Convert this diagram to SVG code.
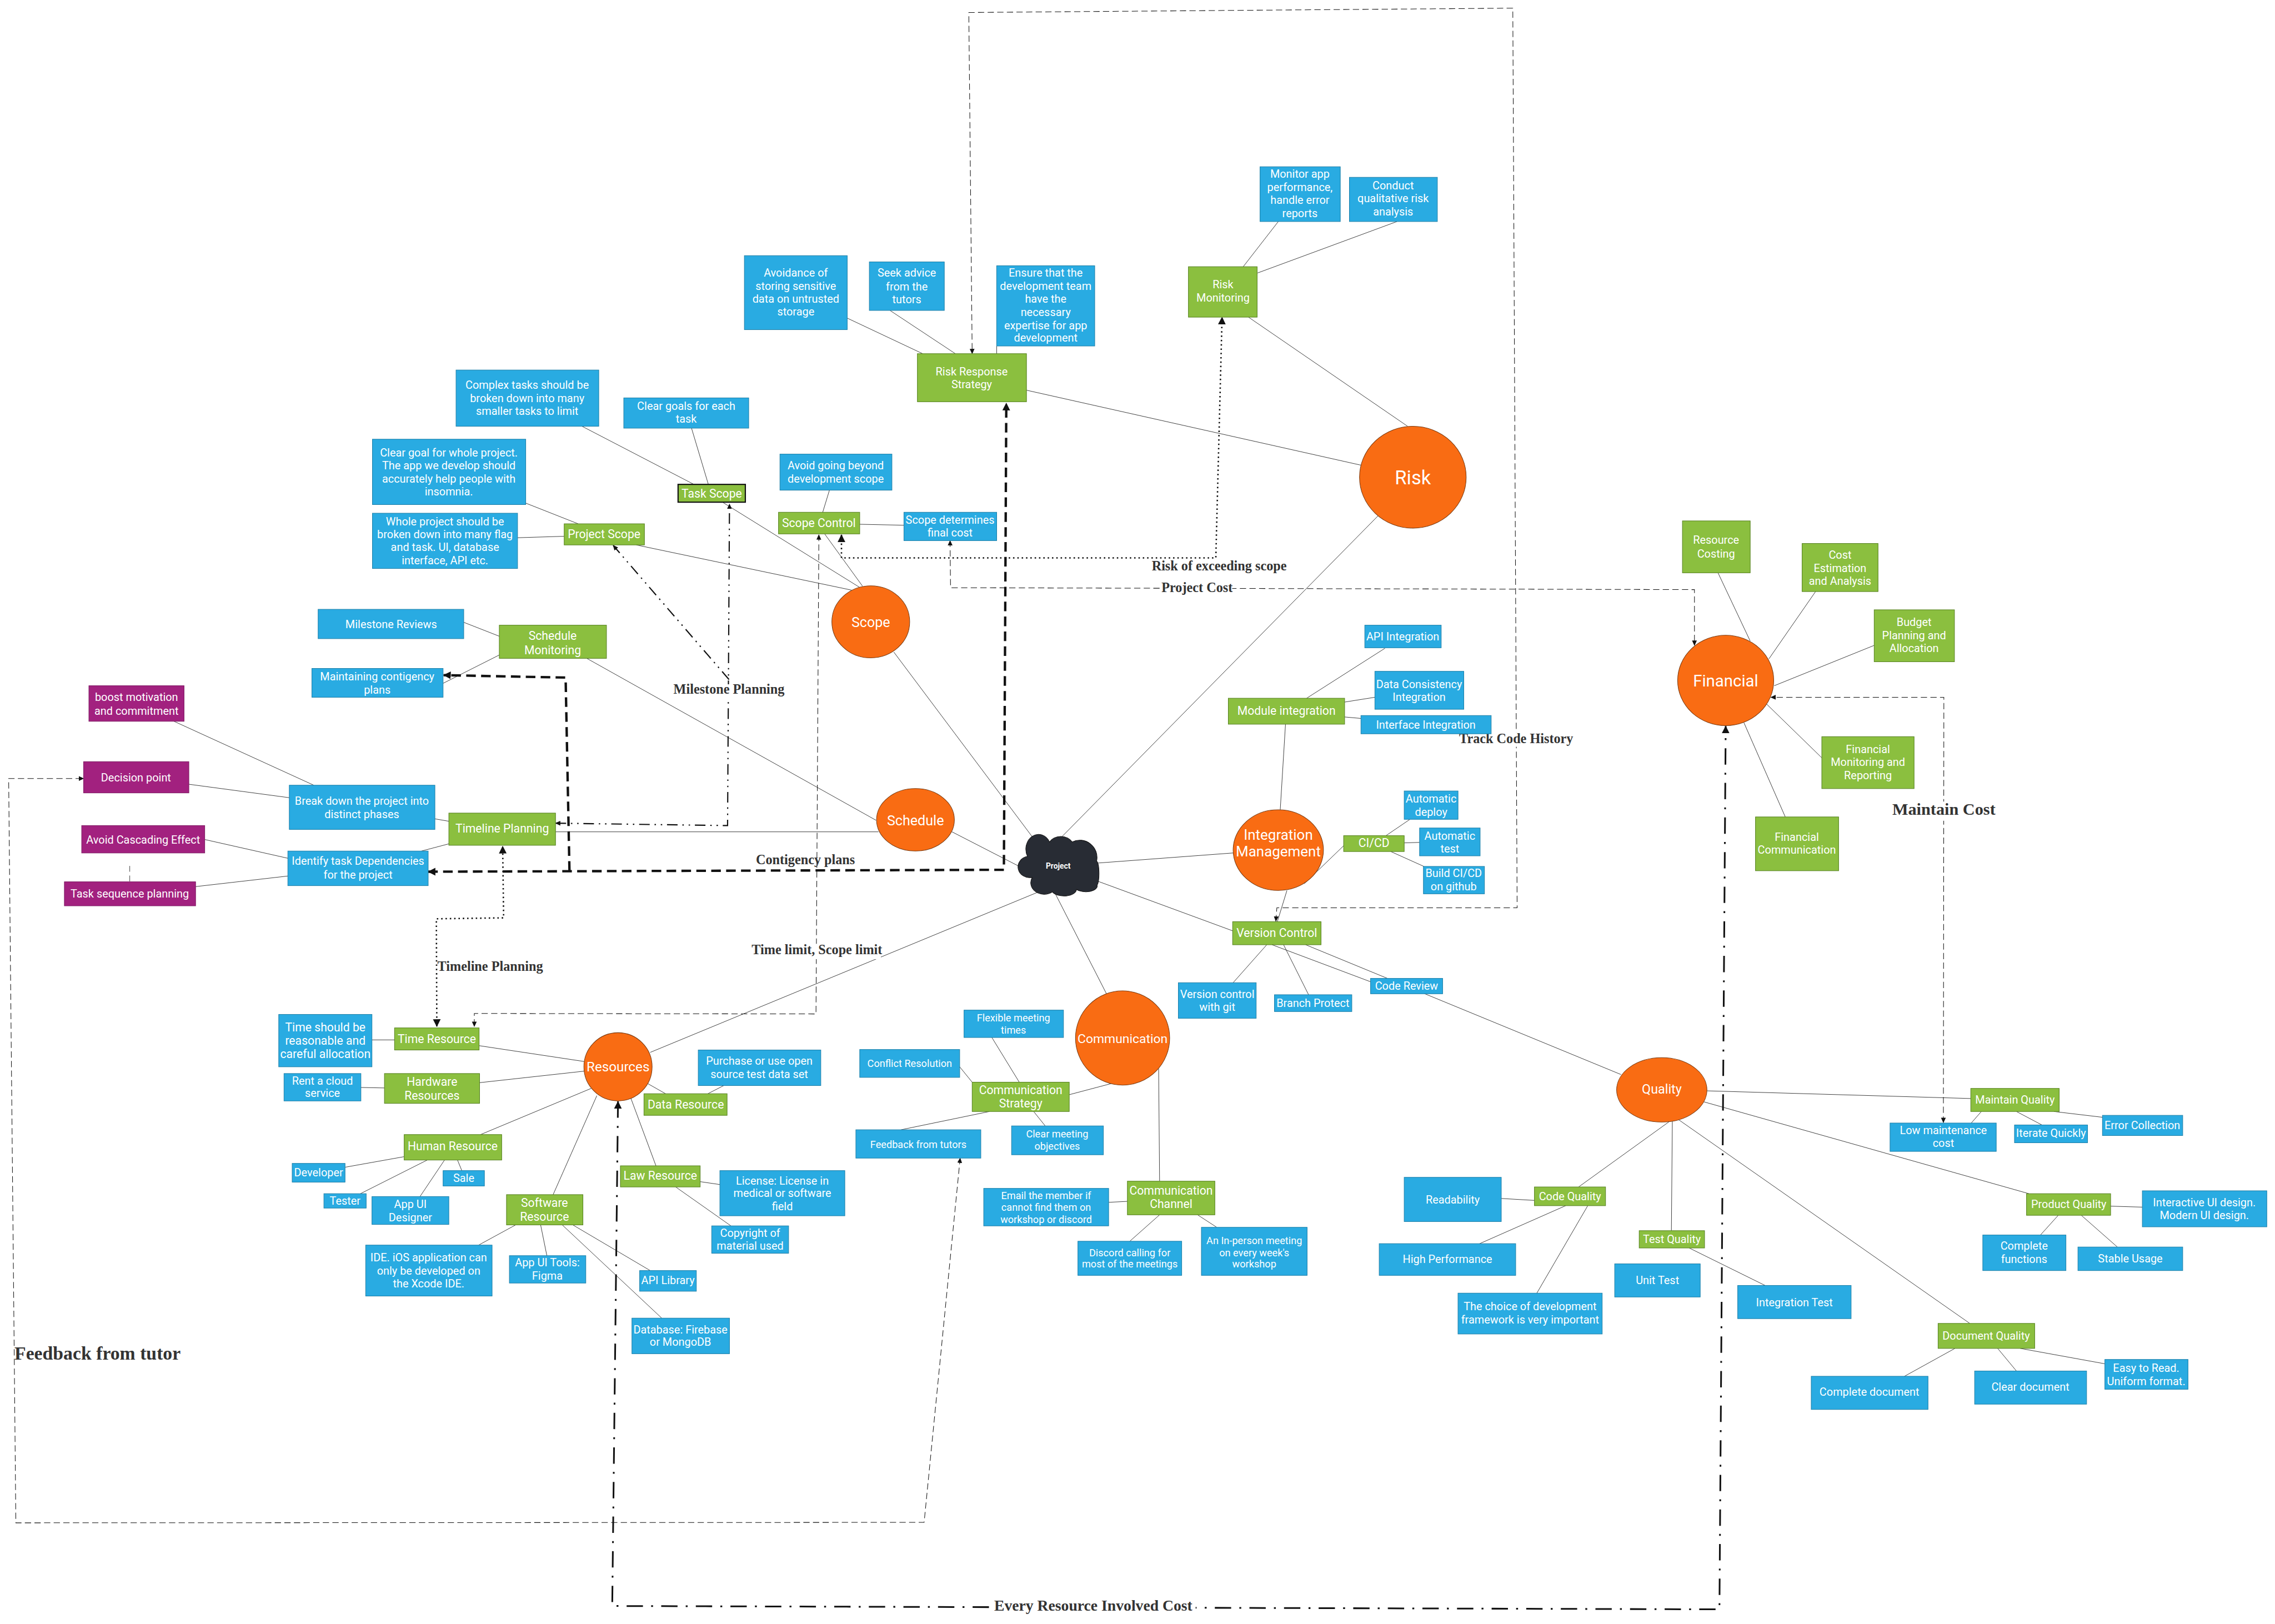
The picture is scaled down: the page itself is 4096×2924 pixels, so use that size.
<svg xmlns="http://www.w3.org/2000/svg" width="4096" height="2924" viewBox="0 0 4096 2924">
<style>
text{font-family:Roboto,"Liberation Sans",sans-serif;font-size:23px;fill:#fff;text-anchor:middle}
.bl{fill:#29abe2;stroke:#1c7fa8;stroke-width:1.2}
.gr{fill:#8bbf3f;stroke:#55801f;stroke-width:1.2}
.pu{fill:#a2217f;stroke:#7d1762;stroke-width:1.2}
.or{fill:#f96c13;stroke:#7a3a10;stroke-width:1.2}
.k{font-size:24.5px}
.c{font-size:21px}
.lb{font-family:"Liberation Serif",serif;font-weight:bold;fill:#333;font-size:28px}
.w{fill:#fff;stroke:none}
#lines line{stroke:#222;stroke-width:1}
#flows path{fill:none;stroke:#111}
.d1{stroke-width:1.2;stroke-dasharray:13 7}
.d2{stroke-width:5;stroke-dasharray:20 11}
.d3{stroke-width:3;stroke-dasharray:3 6}
.d4{stroke-width:2.5;stroke-dasharray:22 10 3 10 3 10}
.d5{stroke-width:3.5;stroke-dasharray:34 17 4 17}
</style>
<defs>
<marker id="a1" markerUnits="userSpaceOnUse" markerWidth="12" markerHeight="12" refX="10" refY="6" orient="auto-start-reverse"><path d="M0 1 L11 6 L0 11 Z" fill="#111"/></marker>
<marker id="a2" markerUnits="userSpaceOnUse" markerWidth="18" markerHeight="18" refX="15" refY="9" orient="auto-start-reverse"><path d="M0 1 L16 9 L0 17 Z" fill="#111"/></marker>
</defs>
<g transform="scale(.86522)">
<g id="lines">
<line x1="1211" y1="887" x2="1444" y2="1008"/><line x1="1439" y1="891" x2="1474" y2="1008"/><line x1="1094" y1="1047" x2="1203" y2="1090"/><line x1="1077" y1="1119" x2="1174" y2="1116"/><line x1="1324" y1="1134" x2="1772" y2="1228"/><line x1="1505" y1="1046" x2="1790" y2="1223"/><line x1="1716" y1="1111" x2="1795" y2="1220"/><line x1="1726" y1="1020" x2="1712" y2="1066"/><line x1="1789" y1="1091" x2="1881" y2="1093"/><line x1="1860" y1="1357" x2="2156" y2="1752"/><line x1="1981" y1="1731" x2="2123" y2="1804"/><line x1="1221" y1="1370" x2="1823" y2="1707"/><line x1="1156" y1="1731" x2="1828" y2="1731"/><line x1="965" y1="1295" x2="1039" y2="1324"/><line x1="1039" y1="1363" x2="922" y2="1422"/><line x1="362" y1="1501" x2="653" y2="1634"/><line x1="393" y1="1632" x2="602" y2="1660"/><line x1="905" y1="1704" x2="934" y2="1709"/><line x1="934" y1="1756" x2="877" y2="1771"/><line x1="426" y1="1747" x2="599" y2="1786"/><line x1="407" y1="1845" x2="599" y2="1823"/>
<line x1="1763" y1="662" x2="1920" y2="736"/><line x1="1852" y1="646" x2="1988" y2="736"/><line x1="2074" y1="720" x2="2074" y2="736"/><line x1="2136" y1="812" x2="2832" y2="968"/><line x1="2598" y1="660" x2="2929" y2="887"/><line x1="2660" y1="461" x2="2587" y2="555"/><line x1="2907" y1="461" x2="2617" y2="568"/><line x1="2868" y1="1073" x2="2202" y2="1749"/>
<line x1="2284" y1="1796" x2="2566" y2="1775"/><line x1="2675" y1="1507" x2="2664" y2="1686"/><line x1="2882" y1="1349" x2="2719" y2="1453"/><line x1="2861" y1="1451" x2="2798" y2="1461"/><line x1="2832" y1="1495" x2="2798" y2="1492"/><line x1="2714" y1="1839" x2="2796" y2="1760"/><line x1="2884" y1="1739" x2="2934" y2="1705"/><line x1="2922" y1="1754" x2="2954" y2="1753"/><line x1="2894" y1="1772" x2="2963" y2="1803"/><line x1="2678" y1="1853" x2="2658" y2="1918"/><line x1="2285" y1="1834" x2="2565" y2="1937"/><line x1="2636" y1="1966" x2="2566" y2="2045"/><line x1="2671" y1="1966" x2="2723" y2="2070"/><line x1="2647" y1="1966" x2="2852" y2="2043"/><line x1="2717" y1="1966" x2="3373" y2="2236"/>
<line x1="2193" y1="1854" x2="2303" y2="2069"/><line x1="2166" y1="1854" x2="1353" y2="2190"/><line x1="997" y1="2176" x2="1216" y2="2209"/><line x1="998" y1="2253" x2="1216" y2="2229"/><line x1="774" y1="2164" x2="821" y2="2164"/><line x1="751" y1="2263" x2="800" y2="2264"/><line x1="1000" y1="2361" x2="1230" y2="2265"/><line x1="1151" y1="2486" x2="1242" y2="2280"/><line x1="1365" y1="2426" x2="1313" y2="2286"/><line x1="1385" y1="2276" x2="1348" y2="2255"/><line x1="1506" y1="2259" x2="1473" y2="2276"/><line x1="1457" y1="2459" x2="1498" y2="2465"/><line x1="1406" y1="2470" x2="1521" y2="2551"/><line x1="841" y1="2407" x2="718" y2="2429"/><line x1="889" y1="2414" x2="750" y2="2484"/><line x1="925" y1="2414" x2="874" y2="2490"/><line x1="952" y1="2414" x2="961" y2="2436"/><line x1="1073" y1="2549" x2="996" y2="2591"/><line x1="1125" y1="2549" x2="1138" y2="2613"/><line x1="1192" y1="2549" x2="1353" y2="2644"/><line x1="1170" y1="2549" x2="1377" y2="2743"/>
<line x1="2312" y1="2255" x2="2225" y2="2278"/><line x1="2064" y1="2159" x2="2121" y2="2252"/><line x1="1997" y1="2220" x2="2023" y2="2252"/><line x1="2059" y1="2313" x2="1875" y2="2351"/><line x1="2151" y1="2313" x2="2175" y2="2343"/><line x1="2411" y1="2224" x2="2413" y2="2458"/><line x1="2346" y1="2500" x2="2307" y2="2502"/><line x1="2413" y1="2528" x2="2351" y2="2583"/><line x1="2492" y1="2528" x2="2532" y2="2554"/>
<line x1="3552" y1="2270" x2="4101" y2="2286"/><line x1="4123" y1="2313" x2="4102" y2="2337"/><line x1="4196" y1="2313" x2="4249" y2="2341"/><line x1="4274" y1="2313" x2="4375" y2="2325"/><line x1="3546" y1="2293" x2="4222" y2="2484"/><line x1="4392" y1="2510" x2="4458" y2="2512"/><line x1="4283" y1="2529" x2="4246" y2="2570"/><line x1="4331" y1="2529" x2="4406" y2="2595"/><line x1="3493" y1="2330" x2="4099" y2="2754"/><line x1="4068" y1="2806" x2="3963" y2="2864"/><line x1="4157" y1="2806" x2="4196" y2="2853"/><line x1="4204" y1="2806" x2="4380" y2="2838"/><line x1="3475" y1="2333" x2="3285" y2="2470"/><line x1="3193" y1="2498" x2="3124" y2="2494"/><line x1="3258" y1="2509" x2="3079" y2="2588"/><line x1="3304" y1="2509" x2="3198" y2="2691"/><line x1="3480" y1="2333" x2="3478" y2="2561"/><line x1="3515" y1="2597" x2="3673" y2="2675"/>
<line x1="3575" y1="1192" x2="3642" y2="1334"/><line x1="3778" y1="1231" x2="3681" y2="1371"/><line x1="3900" y1="1343" x2="3692" y2="1427"/><line x1="3791" y1="1577" x2="3676" y2="1465"/><line x1="3715" y1="1700" x2="3629" y2="1504"/>
</g>
<g id="flows">
<path class="d1" marker-start="url(#a1)" marker-end="url(#a1)" d="M2655 1917 L2657 1889 L3157 1889 L3148 17 L2016 26 L2023 736"/>
<path class="d1" marker-start="url(#a1)" marker-end="url(#a1)" d="M1977 1125 L1978 1223 L3526 1227 L3526 1343"/>
<path class="d3" marker-start="url(#a2)" marker-end="url(#a2)" d="M1751 1113 L1751 1161 L2530 1161 L2543 660"/>
<path class="d1" marker-start="url(#a1)" marker-end="url(#a1)" d="M1704 1113 L1698 2110 L987 2109 L987 2136"/>
<path class="d2" marker-start="url(#a2)" marker-end="url(#a2)" d="M891 1814 L2089 1810 L2094 839"/>
<path class="d2" marker-end="url(#a2)" d="M1185 1812 L1177 1410 L923 1405"/>
<path class="d4" marker-start="url(#a1)" marker-end="url(#a1)" d="M1156 1713 L1514 1718 L1518 1049"/>
<path class="d4" marker-end="url(#a1)" d="M1517 1414 L1276 1135"/>
<path class="d3" marker-start="url(#a2)" marker-end="url(#a2)" d="M909 2136 L908 1912 L1048 1910 L1046 1761"/>
<path class="d1" marker-start="url(#a1)" marker-end="url(#a1)" d="M1998 2410 L1923 3168 L33 3169 L18 1620 L174 1620"/>
<path class="d5" marker-start="url(#a2)" marker-end="url(#a2)" d="M1286 2292 L1274 3342 L3578 3349 L3591 1511"/>
<path class="d1" marker-start="url(#a1)" marker-end="url(#a1)" d="M4044 2336 L4045 1451 L3685 1451"/>
</g>
<g id="labels">
<rect class="w" x="2398" y="1164" width="278" height="30"/><text class="lb" x="2537" y="1187">Risk of exceeding scope</text>
<rect class="w" x="2418" y="1208" width="146" height="32"/><text class="lb" x="2491" y="1232">Project Cost</text>
<rect class="w" x="1403" y="1424" width="227" height="30"/><text class="lb" x="1517" y="1444">Milestone Planning</text>
<rect class="w" x="3038" y="1524" width="234" height="30"/><text class="lb" x="3155" y="1546">Track Code History</text>
<rect class="w" x="3938" y="1668" width="214" height="40"/><text class="lb" style="font-size:35px" x="4045" y="1696">Maintain Cost</text>
<text class="lb" x="1676" y="1798">Contigency plans</text>
<rect class="w" x="1566" y="1964" width="267" height="32"/><text class="lb" x="1700" y="1986">Time limit, Scope limit</text>
<rect class="w" x="913" y="1998" width="215" height="30"/><text class="lb" x="1020" y="2020">Timeline Planning</text>
<text class="lb" style="font-size:39px" x="203" y="2829">Feedback from tutor</text>
<rect class="w" x="2060" y="3325" width="428" height="36"/><text class="lb" style="font-size:32px" x="2275" y="3352">Every Resource Involved Cost</text>
</g>
<g id="n-project"><path fill="#282c34" stroke="#111" stroke-width="1.2" d="M2148 1826 A23 21 0 0 1 2138 1782 A24 28 0 0 1 2184 1752 A26 20 0 0 1 2231 1752 A36 36 0 0 1 2282 1792 A6 26 0 0 1 2283 1842 A24 12 0 0 1 2240 1851 A26 14 0 0 1 2190 1856 A28 24 0 0 1 2148 1826 Z"/><text style="font-size:16px;font-weight:bold" x="2202" y="1808">Project</text></g>
<g id="n-risk"><ellipse class="or" cx="2940" cy="993" rx="111" ry="106"/><text style="font-size:40px" x="2940" y="1008">Risk</text></g>
<g id="n-financial"><ellipse class="or" cx="3591" cy="1416" rx="100" ry="94"/><text style="font-size:34px" x="3591" y="1429">Financial</text></g>
<g id="n-scope"><ellipse class="or" cx="1812" cy="1294" rx="81" ry="75"/><text style="font-size:29px" x="1812" y="1305">Scope</text></g>
<g id="n-schedule"><ellipse class="or" cx="1905" cy="1706" rx="81" ry="65"/><text style="font-size:29px" x="1905" y="1717">Schedule</text></g>
<g id="n-integration"><ellipse class="or" cx="2660" cy="1769" rx="94" ry="84"/><text style="font-size:30px" x="2660" y="1747">Integration</text><text style="font-size:30px" x="2660" y="1782">Management</text></g>
<g id="n-communication"><ellipse class="or" cx="2336" cy="2160" rx="98" ry="98"/><text style="font-size:26.5px" x="2336" y="2170">Communication</text></g>
<g id="n-resources"><ellipse class="or" cx="1286" cy="2220" rx="71" ry="71"/><text style="font-size:28px" x="1286" y="2230">Resources</text></g>
<g id="n-quality"><ellipse class="or" cx="3458" cy="2268" rx="94" ry="67"/><text style="font-size:27px" x="3458" y="2276">Quality</text></g>
<g id="n1"><rect class="bl" x="949" y="770" width="297" height="117"/><text x="1097" y="809">Complex tasks should be</text><text x="1097" y="837">broken down into many</text><text x="1097" y="863">smaller tasks to limit</text></g>
<g id="n2"><rect class="bl" x="1298" y="828" width="260" height="63"/><text x="1428" y="853">Clear goals for each</text><text x="1428" y="880">task</text></g>
<g id="n3"><rect class="gr" style="stroke:#111;stroke-width:2.5" x="1411" y="1008" width="140" height="37"/><text class="k" x="1481" y="1035">Task Scope</text></g>
<g id="n4"><rect class="bl" x="775" y="914" width="319" height="136"/><text x="934" y="950">Clear goal for whole project.</text><text x="934" y="977">The app we develop should</text><text x="934" y="1004">accurately help people  with</text><text x="934" y="1031">insomnia.</text></g>
<g id="n5"><rect class="bl" x="775" y="1068" width="302" height="115"/><text x="926" y="1093">Whole project should be</text><text x="926" y="1120">broken down into  many flag</text><text x="926" y="1147">and task.  UI, database</text><text x="926" y="1174">interface, API etc.</text></g>
<g id="n6"><rect class="gr" x="1174" y="1090" width="167" height="44"/><text class="k" x="1257" y="1120">Project Scope</text></g>
<g id="n7"><rect class="bl" x="662" y="1268" width="303" height="61"/><text x="814" y="1307">Milestone Reviews</text></g>
<g id="n8"><rect class="gr" x="1039" y="1301" width="223" height="69"/><text class="k" x="1150" y="1331">Schedule</text><text class="k" x="1150" y="1361">Monitoring</text></g>
<g id="n9"><rect class="bl" x="649" y="1391" width="273" height="60"/><text x="785" y="1416">Maintaining contigency</text><text x="785" y="1443">plans</text></g>
<g id="n10"><rect class="pu" x="185" y="1427" width="198" height="74"/><text x="284" y="1459">boost motivation</text><text x="284" y="1487">and commitment</text></g>
<g id="n11"><rect class="pu" x="174" y="1585" width="219" height="65"/><text x="283" y="1626">Decision point</text></g>
<g id="n12"><rect class="bl" x="602" y="1634" width="303" height="92"/><text x="753" y="1675">Break down the project into</text><text x="753" y="1702">distinct phases</text></g>
<g id="n13"><rect class="gr" x="934" y="1692" width="222" height="67"/><text class="k" x="1045" y="1733">Timeline Planning</text></g>
<g id="n14"><rect class="bl" x="599" y="1771" width="292" height="72"/><text x="745" y="1800">Identify task Dependencies</text><text x="745" y="1828">for the project</text></g>
<g id="n15"><rect class="pu" x="170" y="1718" width="256" height="57"/><text x="298" y="1756">Avoid Cascading Effect</text></g>
<g id="n16"><rect class="pu" x="134" y="1835" width="273" height="50"/><text x="270" y="1868">Task sequence planning</text></g>
<path d="M270 1802 V1835" stroke="#222" stroke-width="1" stroke-dasharray="12 8" fill="none"/>
<g id="n17"><rect class="bl" x="2622" y="347" width="167" height="114"/><text x="2705" y="370">Monitor app</text><text x="2705" y="398">performance,</text><text x="2705" y="424">handle error</text><text x="2705" y="452">reports</text></g>
<g id="n18"><rect class="bl" x="2808" y="369" width="183" height="92"/><text x="2899" y="394">Conduct</text><text x="2899" y="421">qualitative risk</text><text x="2899" y="449">analysis</text></g>
<g id="n19"><rect class="gr" x="2473" y="555" width="143" height="105"/><text x="2545" y="600">Risk</text><text x="2545" y="628">Monitoring</text></g>
<g id="n20"><rect class="bl" x="1549" y="532" width="214" height="154"/><text x="1656" y="576">Avoidance of</text><text x="1656" y="603">storing sensitive</text><text x="1656" y="630">data on untrusted</text><text x="1656" y="657">storage</text></g>
<g id="n21"><rect class="bl" x="1809" y="545" width="156" height="101"/><text x="1887" y="576">Seek advice</text><text x="1887" y="604">from the</text><text x="1887" y="631">tutors</text></g>
<g id="n22"><rect class="bl" x="2074" y="553" width="204" height="167"/><text x="2176" y="576">Ensure that the</text><text x="2176" y="603">development team</text><text x="2176" y="630">have the</text><text x="2176" y="658">necessary</text><text x="2176" y="685">expertise for app</text><text x="2176" y="711">development</text></g>
<g id="n23"><rect class="gr" x="1909" y="736" width="227" height="100"/><text x="2022" y="781">Risk Response</text><text x="2022" y="808">Strategy</text></g>
<g id="n24"><rect class="bl" x="1623" y="945" width="233" height="75"/><text x="1739" y="977">Avoid going beyond</text><text x="1739" y="1004">development scope</text></g>
<g id="n25"><rect class="gr" x="1620" y="1066" width="169" height="45"/><text class="k" x="1704" y="1097">Scope Control</text></g>
<g id="n26"><rect class="bl" x="1881" y="1066" width="193" height="59"/><text x="1977" y="1090">Scope determines</text><text x="1977" y="1116">final cost</text></g>
<g id="n27"><rect class="gr" x="2796" y="1739" width="126" height="33"/><text class="k" x="2859" y="1763">CI/CD</text></g>
<g id="n28"><rect class="bl" x="2922" y="1646" width="112" height="59"/><text x="2978" y="1670">Automatic</text><text x="2978" y="1698">deploy</text></g>
<g id="n29"><rect class="bl" x="2954" y="1723" width="126" height="58"/><text x="3017" y="1747">Automatic</text><text x="3017" y="1774">test</text></g>
<g id="n30"><rect class="bl" x="2962" y="1803" width="127" height="57"/><text x="3025" y="1825">Build CI/CD</text><text x="3025" y="1853">on github</text></g>
<g id="n31"><rect class="gr" x="2565" y="1918" width="184" height="48"/><text class="k" x="2657" y="1950">Version Control</text></g>
<g id="n32"><rect class="bl" x="2452" y="2045" width="162" height="74"/><text x="2533" y="2077">Version control</text><text x="2533" y="2104">with git</text></g>
<g id="n33"><rect class="bl" x="2652" y="2070" width="161" height="35"/><text x="2732" y="2095">Branch Protect</text></g>
<g id="n34"><rect class="bl" x="2852" y="2036" width="150" height="32"/><text x="2927" y="2060">Code Review</text></g>
<g id="n35"><rect class="bl" x="2006" y="2102" width="207" height="57"/><text class="c" x="2109" y="2126">Flexible meeting</text><text class="c" x="2109" y="2151">times</text></g>
<g id="n36"><rect class="bl" x="1789" y="2184" width="208" height="58"/><text class="c" x="1893" y="2220">Conflict Resolution</text></g>
<g id="n37"><rect class="gr" x="2023" y="2252" width="202" height="61"/><text class="k" x="2124" y="2277">Communication</text><text class="k" x="2124" y="2305">Strategy</text></g>
<g id="n38"><rect class="bl" x="1781" y="2351" width="260" height="59"/><text class="c" x="1911" y="2389">Feedback from tutors</text></g>
<g id="n39"><rect class="bl" x="2105" y="2343" width="191" height="60"/><text class="c" x="2200" y="2367">Clear meeting</text><text class="c" x="2200" y="2392">objectives</text></g>
<g id="n40"><rect class="bl" x="2047" y="2473" width="260" height="78"/><text class="c" x="2177" y="2495">Email the member if</text><text class="c" x="2177" y="2520">cannot find them on</text><text class="c" x="2177" y="2545">workshop or discord</text></g>
<g id="n41"><rect class="gr" x="2346" y="2458" width="182" height="70"/><text class="k" x="2437" y="2486">Communication</text><text class="k" x="2437" y="2514">Channel</text></g>
<g id="n42"><rect class="bl" x="2243" y="2583" width="216" height="71"/><text class="c" x="2351" y="2614">Discord calling for</text><text class="c" x="2351" y="2638">most of the meetings</text></g>
<g id="n43"><rect class="bl" x="2500" y="2554" width="220" height="100"/><text class="c" x="2610" y="2589">An In-person meeting</text><text class="c" x="2610" y="2614">on every week's</text><text class="c" x="2610" y="2638">workshop</text></g>
<g id="n44"><rect class="bl" x="580" y="2111" width="194" height="109"/><text class="k" x="677" y="2146">Time should be</text><text class="k" x="677" y="2174">reasonable and</text><text class="k" x="677" y="2202">careful allocation</text></g>
<g id="n45"><rect class="gr" x="821" y="2139" width="176" height="46"/><text class="k" x="909" y="2170">Time Resource</text></g>
<g id="n46"><rect class="gr" x="800" y="2234" width="198" height="62"/><text class="k" x="899" y="2259">Hardware</text><text class="k" x="899" y="2288">Resources</text></g>
<g id="n47"><rect class="bl" x="591" y="2234" width="160" height="57"/><text x="671" y="2257">Rent a cloud</text><text x="671" y="2283">service</text></g>
<g id="n48"><rect class="gr" x="1340" y="2276" width="173" height="45"/><text class="k" x="1427" y="2307">Data Resource</text></g>
<g id="n49"><rect class="bl" x="1453" y="2185" width="255" height="74"/><text x="1580" y="2216">Purchase or use open</text><text x="1580" y="2243">source test data set</text></g>
<g id="n50"><rect class="gr" x="841" y="2361" width="203" height="53"/><text class="k" x="942" y="2394">Human Resource</text></g>
<g id="n51"><rect class="bl" x="608" y="2421" width="110" height="39"/><text x="663" y="2448">Developer</text></g>
<g id="n52"><rect class="bl" x="674" y="2484" width="88" height="30"/><text x="718" y="2507">Tester</text></g>
<g id="n53"><rect class="bl" x="922" y="2436" width="86" height="32"/><text x="965" y="2460">Sale</text></g>
<g id="n54"><rect class="bl" x="774" y="2490" width="160" height="58"/><text x="854" y="2514">App UI</text><text x="854" y="2541">Designer</text></g>
<g id="n55"><rect class="gr" x="1054" y="2486" width="159" height="63"/><text class="k" x="1133" y="2511">Software</text><text class="k" x="1133" y="2540">Resource</text></g>
<g id="n56"><rect class="gr" x="1291" y="2426" width="166" height="44"/><text class="k" x="1374" y="2455">Law Resource</text></g>
<g id="n57"><rect class="bl" x="1498" y="2436" width="260" height="94"/><text x="1628" y="2465">License: License in</text><text x="1628" y="2491">medical or software</text><text x="1628" y="2519">field</text></g>
<g id="n58"><rect class="bl" x="1481" y="2551" width="160" height="57"/><text x="1561" y="2574">Copyright of</text><text x="1561" y="2601">material used</text></g>
<g id="n59"><rect class="bl" x="761" y="2591" width="263" height="106"/><text x="892" y="2625">IDE. iOS application  can</text><text x="892" y="2652">only be developed on</text><text x="892" y="2679">the Xcode IDE.</text></g>
<g id="n60"><rect class="bl" x="1060" y="2613" width="159" height="57"/><text x="1139" y="2635">App UI Tools:</text><text x="1139" y="2663">Figma</text></g>
<g id="n61"><rect class="bl" x="1331" y="2644" width="118" height="43"/><text x="1390" y="2672">API Library</text></g>
<g id="n62"><rect class="bl" x="1315" y="2743" width="203" height="74"/><text x="1416" y="2775">Database: Firebase</text><text x="1416" y="2801">or MongoDB</text></g>
<g id="n63"><rect class="gr" x="4101" y="2265" width="184" height="48"/><text x="4193" y="2297">Maintain Quality</text></g>
<g id="n64"><rect class="bl" x="3933" y="2337" width="221" height="59"/><text x="4044" y="2360">Low maintenance</text><text x="4044" y="2387">cost</text></g>
<g id="n65"><rect class="bl" x="4192" y="2341" width="152" height="37"/><text x="4268" y="2366">Iterate Quickly</text></g>
<g id="n66"><rect class="bl" x="4375" y="2321" width="167" height="42"/><text x="4458" y="2350">Error Collection</text></g>
<g id="n67"><rect class="gr" x="3193" y="2470" width="148" height="39"/><text x="3267" y="2498">Code Quality</text></g>
<g id="n68"><rect class="bl" x="2922" y="2450" width="202" height="92"/><text x="3023" y="2505">Readability</text></g>
<g id="n69"><rect class="bl" x="2870" y="2588" width="284" height="66"/><text x="3012" y="2628">High Performance</text></g>
<g id="n70"><rect class="bl" x="3034" y="2691" width="300" height="85"/><text x="3184" y="2727">The choice of development</text><text x="3184" y="2754">framework is very important</text></g>
<g id="n71"><rect class="gr" x="3411" y="2561" width="136" height="36"/><text x="3479" y="2587">Test Quality</text></g>
<g id="n72"><rect class="bl" x="3360" y="2630" width="178" height="69"/><text x="3449" y="2672">Unit Test</text></g>
<g id="n73"><rect class="bl" x="3616" y="2675" width="236" height="69"/><text x="3734" y="2718">Integration Test</text></g>
<g id="n74"><rect class="gr" x="4217" y="2484" width="175" height="45"/><text x="4305" y="2514">Product Quality</text></g>
<g id="n75"><rect class="bl" x="4458" y="2478" width="259" height="75"/><text x="4587" y="2510">Interactive UI design.</text><text x="4587" y="2537">Modern UI design.</text></g>
<g id="n76"><rect class="bl" x="4126" y="2570" width="173" height="74"/><text x="4212" y="2601">Complete</text><text x="4212" y="2628">functions</text></g>
<g id="n77"><rect class="bl" x="4324" y="2595" width="218" height="49"/><text x="4433" y="2627">Stable Usage</text></g>
<g id="n78"><rect class="gr" x="4033" y="2754" width="201" height="52"/><text x="4133" y="2788">Document Quality</text></g>
<g id="n79"><rect class="bl" x="3769" y="2864" width="243" height="69"/><text x="3890" y="2905">Complete document</text></g>
<g id="n80"><rect class="bl" x="4109" y="2853" width="233" height="69"/><text x="4225" y="2894">Clear document</text></g>
<g id="n81"><rect class="bl" x="4380" y="2829" width="173" height="62"/><text x="4466" y="2855">Easy to Read.</text><text x="4466" y="2882">Uniform format.</text></g>
<g id="n82"><rect class="gr" x="3501" y="1084" width="141" height="108"/><text x="3571" y="1132">Resource</text><text x="3571" y="1160">Costing</text></g>
<g id="n83"><rect class="gr" x="3750" y="1131" width="158" height="100"/><text x="3829" y="1163">Cost</text><text x="3829" y="1190">Estimation</text><text x="3829" y="1217">and Analysis</text></g>
<g id="n84"><rect class="gr" x="3900" y="1269" width="167" height="108"/><text x="3983" y="1302">Budget</text><text x="3983" y="1330">Planning and</text><text x="3983" y="1357">Allocation</text></g>
<g id="n85"><rect class="gr" x="3791" y="1533" width="192" height="108"/><text x="3887" y="1567">Financial</text><text x="3887" y="1594">Monitoring and</text><text x="3887" y="1622">Reporting</text></g>
<g id="n86"><rect class="gr" x="3653" y="1700" width="173" height="112"/><text x="3739" y="1750">Financial</text><text x="3739" y="1777">Communication</text></g>
<g id="n87"><rect class="gr" x="2556" y="1453" width="242" height="54"/><text class="k" x="2677" y="1487">Module integration</text></g>
<g id="n88"><rect class="bl" x="2840" y="1301" width="159" height="47"/><text x="2919" y="1333">API Integration</text></g>
<g id="n89"><rect class="bl" x="2861" y="1397" width="185" height="79"/><text x="2953" y="1432">Data Consistency</text><text x="2953" y="1459">Integration</text></g>
<g id="n90"><rect class="bl" x="2832" y="1489" width="271" height="38"/><text x="2967" y="1516">Interface Integration</text></g>
</g>
</svg>
